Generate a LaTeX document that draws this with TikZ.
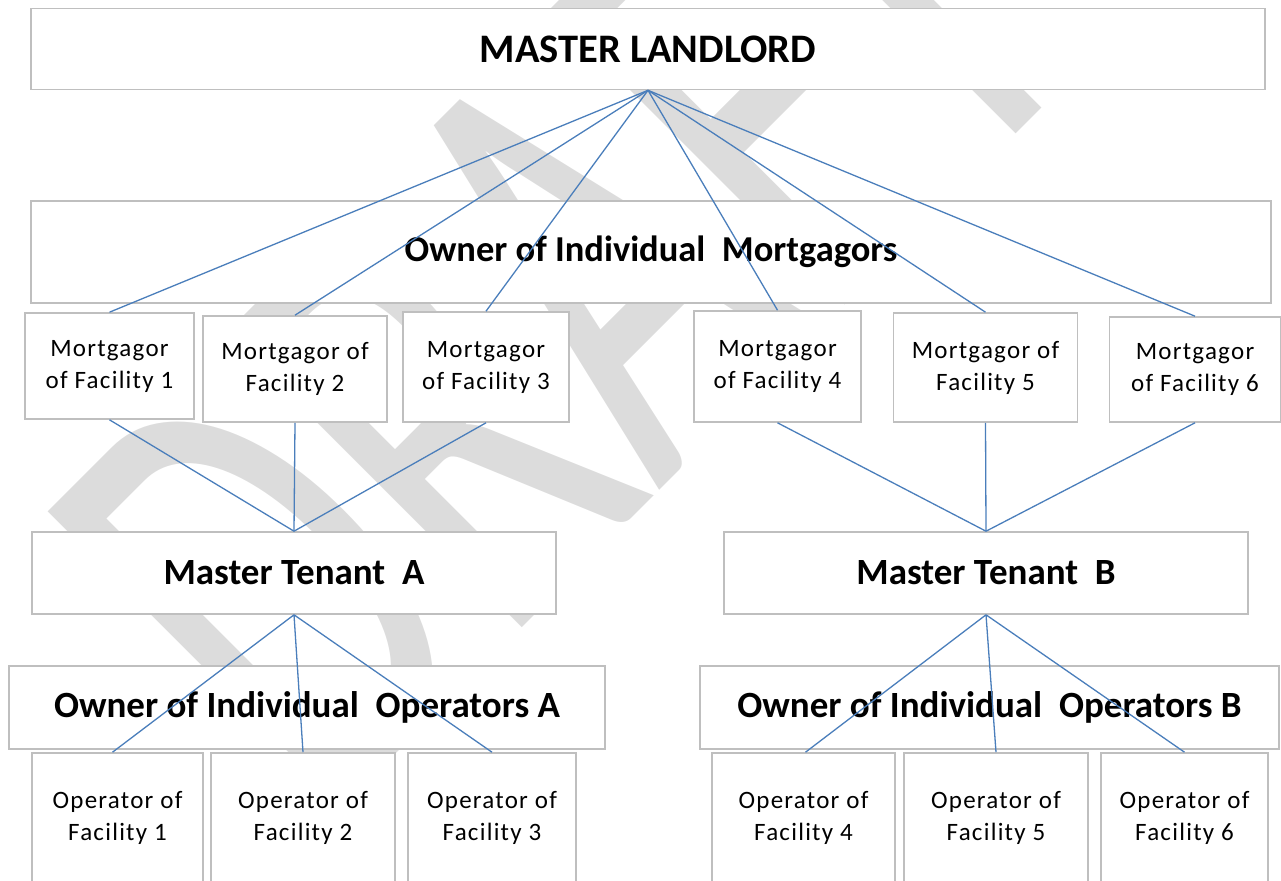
\documentclass[tikz,border=0pt]{standalone}
\usepackage{fontspec}
\setmainfont{Carlito}
\definecolor{boxgray}{HTML}{BFBFBF}
\definecolor{linkblue}{HTML}{4A7EBB}
\definecolor{wmgray}{HTML}{DCDCDC}

\begin{document}
\begin{tikzpicture}[
		x=1pt, y=-1pt,
		box/.style = {draw=boxgray, line width=1.6pt, fill=white, inner sep=0pt, align=center},
		big/.style = {box, font=\fontsize{40.5}{44}\selectfont\bfseries},
		mid/.style = {box, font=\fontsize{36.5}{40}\selectfont\bfseries},
		small/.style = {box, font=\fontsize{25}{32}\selectfont\addfontfeatures{LetterSpace=5}},
		link/.style = {draw=linkblue, line width=1.3pt}
	]
	\useasboundingbox (0,0) rectangle (1281,880);
	% Watermark.
	\begin{scope}[shift={(323,826.5)}, rotate=45, yscale=1.59, transform shape]
		\node[anchor=base west, inner sep=0pt, text=wmgray, font=\fontsize{409}{409}\selectfont] (wm) at (0,0) {DRAFT};
	\end{scope}
	% Top.
	\node[big, minimum width=1234pt, minimum height=81pt] (ml) at (648,49) {MASTER LANDLORD};
	\node[mid, minimum width=1240pt, minimum height=102pt] (om) at (651,252) {Owner of Individual\ \ Mortgagors};
	% Mortgagors.
	\node[small, minimum width=169pt, minimum height=106pt] (mg1) at (109.5,366) {Mortgagor\\of Facility 1};
	\node[small, minimum width=184pt, minimum height=106pt] (mg2) at (295,369) {Mortgagor of\\Facility 2};
	\node[small, minimum width=166pt, minimum height=110pt] (mg3) at (486,367) {Mortgagor\\of Facility 3};
	\node[small, minimum width=167pt, minimum height=111pt] (mg4) at (777.5,366.5) {Mortgagor\\of Facility 4};
	\node[small, minimum width=184pt, minimum height=109pt] (mg5) at (985.5,367.5) {Mortgagor of\\Facility 5};
	\node[small, minimum width=171pt, minimum height=105pt] (mg6) at (1195,369.5) {Mortgagor\\of Facility 6};
	% Master tenants.
	\node[mid, font=\fontsize{37}{40}\selectfont\bfseries, minimum width=524pt, minimum height=82pt] (mta) at (294,573) {Master Tenant\ \ A};
	\node[mid, font=\fontsize{37}{40}\selectfont\bfseries, minimum width=524pt, minimum height=82pt] (mtb) at (986,573) {Master Tenant\ \ B};
	\node[mid, font=\fontsize{37}{40}\selectfont\bfseries, minimum width=596pt, minimum height=83pt] (ooa) at (307,707.5) {Owner of Individual\ \ Operators A};
	\node[mid, font=\fontsize{37}{40}\selectfont\bfseries, minimum width=579pt, minimum height=83pt] (oob) at (989.5,707.5) {Owner of Individual\ \ Operators B};
	% Operators.
	\node[small, minimum width=171pt, minimum height=130pt] (op1) at (117.5,818) {Operator of\\Facility 1};
	\node[small, minimum width=184pt, minimum height=130pt] (op2) at (303,818) {Operator of\\Facility 2};
	\node[small, minimum width=168pt, minimum height=130pt] (op3) at (492,818) {Operator of\\Facility 3};
	\node[small, minimum width=183pt, minimum height=130pt] (op4) at (803.5,818) {Operator of\\Facility 4};
	\node[small, minimum width=184pt, minimum height=130pt] (op5) at (996,818) {Operator of\\Facility 5};
	\node[small, minimum width=167pt, minimum height=130pt] (op6) at (1184.5,818) {Operator of\\Facility 6};

	\draw[link] (ml.south) -- (mg1.north);
	\draw[link] (ml.south) -- (mg2.north);
	\draw[link] (ml.south) -- (mg3.north);
	\draw[link] (ml.south) -- (mg4.north);
	\draw[link] (ml.south) -- (mg5.north);
	\draw[link] (ml.south) -- (mg6.north);
	\draw[link] (mg1.south) -- (mta.north);
	\draw[link] (mg2.south) -- (mta.north);
	\draw[link] (mg3.south) -- (mta.north);
	\draw[link] (mg4.south) -- (mtb.north);
	\draw[link] (mg5.south) -- (mtb.north);
	\draw[link] (mg6.south) -- (mtb.north);
	\draw[link] (mta.south) -- ([xshift=-5pt]op1.north);
	\draw[link] (mta.south) -- (op2.north);
	\draw[link] (mta.south) -- (op3.north);
	\draw[link] (mtb.south) -- ([xshift=2pt]op4.north);
	\draw[link] (mtb.south) -- (op5.north);
	\draw[link] (mtb.south) -- (op6.north);
\end{tikzpicture}
\end{document}
